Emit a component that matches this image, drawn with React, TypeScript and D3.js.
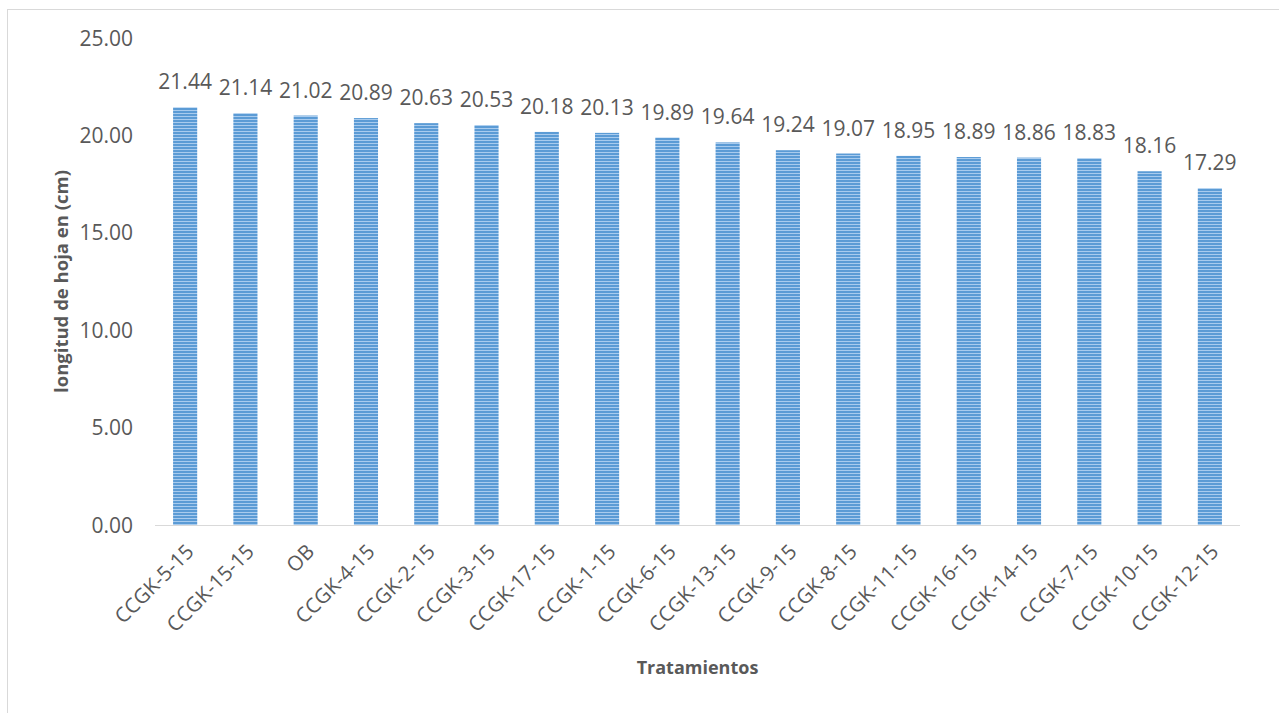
import * as d3 from "d3";

const categories = [
  "CCGK-5-15", "CCGK-15-15", "OB", "CCGK-4-15", "CCGK-2-15", "CCGK-3-15",
  "CCGK-17-15", "CCGK-1-15", "CCGK-6-15", "CCGK-13-15", "CCGK-9-15", "CCGK-8-15",
  "CCGK-11-15", "CCGK-16-15", "CCGK-14-15", "CCGK-7-15", "CCGK-10-15", "CCGK-12-15",
];
const values = [
  21.44, 21.14, 21.02, 20.89, 20.63, 20.53, 20.18, 20.13, 19.89,
  19.64, 19.24, 19.07, 18.95, 18.89, 18.86, 18.83, 18.16, 17.29,
];
const yTicks = [0, 5, 10, 15, 20, 25];
const yTitle = "longitud de hoja en (cm)";
const xTitle = "Tratamientos";

const W = 1279;
const H = 713;
const left = 155;
const right = 1240;
const top = 38;
const bottom = 525;
const textColor = "#595959";
const font = "'Open Sans', sans-serif";

export default function App() {
  const x = d3.scaleBand<string>().domain(categories).range([left, right]).paddingInner(0.6).paddingOuter(0.3);
  const y = d3.scaleLinear().domain([0, 25]).range([bottom, top]);
  const fmt = d3.format(".2f");

  return (
    <svg
      width={W}
      height={H}
      style={{ position: "absolute", left: 0, top: 0, background: "#fff" }}
      fontFamily={font}
    >
      <defs>
        <pattern id="stripes" width={4} height={3} patternUnits="userSpaceOnUse">
          <rect width={4} height={3} fill="#a8cbee" />
          <rect width={4} height={2} fill="#5b9bd5" />
        </pattern>
      </defs>
      <rect x={7.5} y={9.5} width={1290} height={720} fill="none" stroke="#d9d9d9" />

      {yTicks.map((t) => (
        <text
          key={t}
          x={133}
          y={y(t)}
          dy="0.36em"
          textAnchor="end"
          fontSize={21}
          fill={textColor}
        >
          {fmt(t)}
        </text>
      ))}

      {categories.map((c, i) => {
        const bx = x(c) ?? 0;
        const v = values[i];
        return (
          <g key={c}>
            <rect x={bx} y={y(v)} width={x.bandwidth()} height={y(0) - y(v)} fill="url(#stripes)" />
            <text
              x={bx + x.bandwidth() / 2}
              y={y(v) - 18}
              textAnchor="middle"
              fontSize={21}
              fill={textColor}
            >
              {fmt(v)}
            </text>
            <text
              transform={`translate(${bx + x.bandwidth() / 2 + 10},${bottom + 28}) rotate(-45)`}
              textAnchor="end"
              fontSize={20.5}
              fill={textColor}
            >
              {c}
            </text>
          </g>
        );
      })}

      <line x1={left} x2={right} y1={bottom + 0.5} y2={bottom + 0.5} stroke="#d9d9d9" />

      <text
        transform={`translate(68,${(top + bottom) / 2}) rotate(-90)`}
        textAnchor="middle"
        fontSize={18.5}
        fontWeight="bold"
        fill={textColor}
      >
        {yTitle}
      </text>
      <text
        x={(left + right) / 2}
        y={674}
        textAnchor="middle"
        fontSize={18}
        fontWeight="bold"
        fill={textColor}
      >
        {xTitle}
      </text>
    </svg>
  );
}
